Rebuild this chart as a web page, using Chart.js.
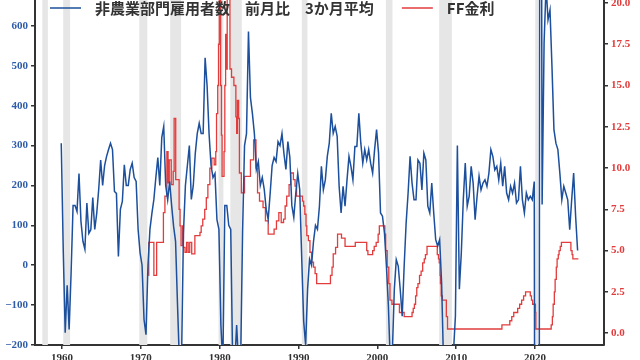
<!DOCTYPE html>
<html>
<head>
<meta charset="utf-8">
<script src="https://cdn.jsdelivr.net/npm/chart.js@4/dist/chart.umd.min.js"></script>
<style>
  html, body { margin: 0; padding: 0; background: #fff; }
  #wrap { width: 640px; height: 360px; }
</style>
</head>
<body>
<div id="wrap"><canvas id="chart" width="640" height="360"></canvas></div>
<script>
// 非農業部門雇用者数 前月比 3か月平均 (千人), quarterly readings from 1959.9
const nfpStart = 1959.9;
const nfpStep = 0.25;
const nfpValues = [
    306, 40, -169, -50, -161, -19, 150, 150, 135, 230, 110, 60, 40, 156, 80, 89, 170, 90, 130, 190,
    264, 200, 250, 273, 290, 306, 290, 185, 180, 22, 140, 160, 252, 200, 200, 240, 256, 220, 210, 90,
    31, 0, -136, -174, 0, 90, 130, 165, 220, 270, 200, 320, 348, 200, 164, 210, 150, 98, 60, -100, -250,
    -250, 81, 200, 250, 300, 165, 200, 280, 330, 356, 330, 330, 520, 450, 330, 250, 220, 230, 114, 90,
    -150, -250, 150, 150, 100, 90, -250, -250, -150, -250, -250, 80, 300, 330, 586, 420, 380, 330, 240, 260,
    200, 220, 190, 140, 115, 180, 250, 270, 260, 310, 300, 330, 280, 240, 310, 270, 150, 120, 180, 230,
    190, 20, -140, -200, -60, 15, 0, 60, 100, 90,
    148, 248, 189, 214, 273, 306, 381, 331, 348, 323, 198, 131, 198, 148, 214, 273, 248, 214, 298, 298,
    381, 306, 256, 290, 264, 290, 256, 231, 290, 340, 281, 131, 123, 81, -2, -103, -250, -220, -61, 14,
    -2, -61, -128, -2, 106, 181, 273, 206, 164, 164, 264, 256, 189, 281, 264, 148, 131, 206, 131, 64,
    48, 64, -44, -250, -350, -450, -600, -500, -220, -128, 300, -60,
    31, 164, 256, 148, 173, 248, 206, 114, 173, 223, 189, 206, 214, 198, 231, 290, 273, 239, 248, 214,
    256, 198, 248, 181, 164, 198, 181, 206, 156, 164, 248, 164, 131, 181, 164, 173, 164, 210, -2500, -4000,
    2500, 152, 557, 700, 615, 640, 498, 340, 306, 290, 231, 164, 198, 181, 164, 89, 164, 231, 123, 37
];

// FF金利 (%), change dates and levels
const ffDates = [
    1970.95, 1971.0, 1971.65, 1972.0, 1972.86, 1973.05, 1973.3, 1973.45, 1973.6, 1973.85,
    1974.1, 1974.22, 1974.42, 1974.85, 1974.97, 1975.1, 1975.3, 1975.4, 1975.6, 1975.8,
    1976.0, 1976.2, 1976.45, 1976.85, 1977.5, 1977.65, 1977.85, 1978.1, 1978.3, 1978.5,
    1978.75, 1979.0, 1979.3, 1979.5, 1979.6, 1979.75, 1979.85, 1979.95, 1980.12, 1980.22,
    1980.3, 1980.55, 1980.65, 1980.75, 1980.85, 1980.95, 1981.3, 1981.5, 1981.8, 1982.05,
    1982.15, 1982.25, 1982.4, 1982.5, 1982.75, 1983.15, 1983.9, 1984.3, 1984.6, 1984.8,
    1985.05, 1985.5, 1985.8, 1986.15, 1986.9, 1987.2, 1987.5, 1987.8, 1988.1, 1988.3,
    1988.5, 1988.8, 1989.0, 1989.35, 1989.56, 1989.75, 1990.5, 1990.65, 1990.8, 1990.95,
    1991.05, 1991.25, 1991.45, 1991.65, 1991.9, 1992.1, 1992.3, 1994.05, 1994.25, 1994.4,
    1994.7, 1994.95, 1995.45, 1995.9, 1997.2, 1998.65, 1998.8, 1999.4, 1999.6, 1999.85,
    2000.1, 2000.25, 2000.95, 2001.05, 2001.25, 2001.45, 2001.6, 2001.85, 2002.8, 2003.4,
    2004.4, 2004.55, 2004.7, 2004.85, 2005.0, 2005.15, 2005.35, 2005.55, 2005.75, 2005.95,
    2006.1, 2006.3, 2007.6, 2007.75, 2007.85, 2007.95, 2008.0, 2008.1, 2008.25, 2008.75,
    2008.9, 2015.8, 2016.8, 2017.05, 2017.3, 2017.8, 2018.05, 2018.3, 2018.55, 2018.8,
    2019.4, 2019.55, 2019.7, 2020.05, 2020.1, 2022.05, 2022.2, 2022.3, 2022.45, 2022.55,
    2022.7, 2022.8, 2022.95, 2023.05, 2023.2, 2023.35, 2024.55, 2024.7, 2024.8, 2025.5
];
const ffRates = [
    3.5, 5.5, 3.5, 5.5, 7.3, 8.3, 11.0, 9.1, 10.5, 9.0,
    9.8, 13.0, 9.3, 7.5, 6.5, 5.3, 6.5, 5.2, 4.9, 5.5,
    4.9, 5.5, 4.8, 5.9, 6.1, 6.5, 6.9, 7.5, 8.2, 9.0,
    10.0, 10.6, 10.2, 11.0, 13.3, 15.0, 17.5, 21.0, 15.0, 12.0,
    9.5, 11.0, 15.0, 18.1, 16.0, 21.0, 16.0, 15.5, 15.0, 13.1,
    12.1, 14.1, 13.0, 9.7, 8.5, 9.5, 10.5, 11.7, 10.0, 8.5,
    8.0, 7.6, 6.8, 6.0, 6.3, 6.8, 7.3, 6.7, 6.9, 7.7,
    8.3, 9.0, 9.7, 9.3, 8.9, 8.3, 8.0, 7.7, 7.2, 6.5,
    5.9, 5.6, 4.9, 4.3, 4.0, 3.6, 3.0, 3.5, 4.0, 4.8,
    5.2, 6.0, 5.75, 5.25, 5.5, 5.0, 4.75, 5.0, 5.25, 5.5,
    6.0, 6.5, 6.0, 5.0, 4.0, 3.0, 2.0, 1.75, 1.25, 1.0,
    1.25, 1.5, 1.75, 2.25, 2.75, 3.0, 3.5, 3.75, 4.25, 4.5,
    4.75, 5.25, 4.75, 4.5, 4.25, 3.5, 3.0, 2.25, 2.0, 1.0,
    0.25, 0.5, 0.75, 1.0, 1.25, 1.5, 1.75, 2.0, 2.25, 2.5,
    2.25, 2.0, 1.75, 1.25, 0.25, 0.5, 1.0, 1.75, 2.5, 3.25,
    4.0, 4.5, 4.75, 5.0, 5.25, 5.5, 5.0, 4.75, 4.5, 4.5
];

// 景気後退期 (shaded)
const recessionStart = [1957.5, 1960.15, 1969.8, 1973.72, 1979.85, 1981.35, 1990.42, 2001.08, 2007.84, 2020.03];
const recessionEnd   = [1958.2, 1961.02, 1970.82, 1975.1, 1980.47, 1982.8, 1991.13, 2001.92, 2009.45, 2020.4];

const yearTicks = [1960, 1970, 1980, 1990, 2000, 2010, 2020];
const leftTicks = [-200, -100, 0, 100, 200, 300, 400, 500, 600];
const rightTicks = [0, 2.5, 5, 7.5, 10, 12.5, 15, 17.5, 20];

const blue = "#1c4f9c";
const red = "#e23c3c";
const numFont = { family: "Liberation Serif, Times New Roman, serif", size: 11, weight: "bold" };

const recessionPlugin = {
    id: "recessions",
    beforeDatasetsDraw(chart) {
        const { ctx, chartArea, scales } = chart;
        ctx.save();
        ctx.fillStyle = "#e6e6e6";
        recessionStart.forEach((s, i) => {
            const x0 = scales.x.getPixelForValue(s);
            const x1 = scales.x.getPixelForValue(recessionEnd[i]);
            ctx.fillRect(x0, chartArea.top, x1 - x0, chartArea.bottom - chartArea.top);
        });
        ctx.restore();
    }
};

const legendPlugin = {
    id: "inlineLegend",
    afterDatasetsDraw(chart) {
        const { ctx, chartArea } = chart;
        const y = chartArea.top + 8;
        let x = chartArea.left + 15;
        ctx.save();
        ctx.font = "bold 15px 'Noto Sans CJK JP'";
        ctx.textBaseline = "middle";
        chart.data.datasets.forEach(ds => {
            ctx.strokeStyle = ds.borderColor;
            ctx.lineWidth = 1.5;
            ctx.beginPath();
            ctx.moveTo(x, y);
            ctx.lineTo(x + 31, y);
            ctx.stroke();
            ctx.fillStyle = "#333";
            ctx.fillText(ds.label, x + 45, y);
            x += 45 + ctx.measureText(ds.label).width + 28;
        });
        ctx.restore();
    }
};

function noPad(scale) {
    scale.paddingTop = 0;
    scale.paddingBottom = 0;
    scale.paddingLeft = 0;
    scale.paddingRight = 0;
}

const axisLine = { display: true, color: "#333", width: 2 };
const tickMarks = { display: true, drawOnChartArea: false, drawTicks: true, tickLength: 4, color: "#333", lineWidth: 1.5 };

new Chart(document.getElementById("chart"), {
    type: "line",
    data: {
        datasets: [
            {
                label: "非農業部門雇用者数\u3000前月比\u30003か月平均",
                data: nfpValues.map((v, i) => ({ x: nfpStart + i * nfpStep, y: v })),
                borderColor: blue,
                borderWidth: 1.5,
                pointRadius: 0,
                tension: 0,
                yAxisID: "y",
            },
            {
                label: "FF金利",
                data: ffDates.map((d, i) => ({ x: d, y: ffRates[i] })),
                borderColor: red,
                borderWidth: 1.3,
                pointRadius: 0,
                stepped: true,
                yAxisID: "y1",
            },
        ],
    },
    options: {
        responsive: false,
        animation: false,
        devicePixelRatio: 1,
        layout: { padding: 0 },
        plugins: { legend: { display: false }, tooltip: { enabled: false } },
        scales: {
            x: {
                type: "linear",
                min: 1956.57,
                max: 2028.75,
                border: axisLine,
                grid: tickMarks,
                afterBuildTicks: s => { s.ticks = yearTicks.map(v => ({ value: v })); },
                ticks: { color: "#333", font: numFont, padding: 3, callback: v => String(v) },
                afterFit: s => { s.height = 15; noPad(s); },
            },
            y: {
                position: "left",
                min: -200,
                max: 665,
                border: axisLine,
                grid: tickMarks,
                afterBuildTicks: s => { s.ticks = leftTicks.map(v => ({ value: v })); },
                ticks: { color: "#2f5ca8", font: numFont, padding: 3, callback: v => (v < 0 ? "\u2212" + Math.abs(v) : String(v)) },
                afterFit: s => { s.width = 35; noPad(s); },
            },
            y1: {
                position: "right",
                min: -0.72,
                max: 20.18,
                border: axisLine,
                grid: tickMarks,
                afterBuildTicks: s => { s.ticks = rightTicks.map(v => ({ value: v })); },
                ticks: { color: red, font: numFont, padding: 3, callback: v => v.toFixed(1) },
                afterFit: s => { s.width = 36; noPad(s); },
            },
        },
    },
    plugins: [recessionPlugin, legendPlugin],
});
</script>
</body>
</html>
